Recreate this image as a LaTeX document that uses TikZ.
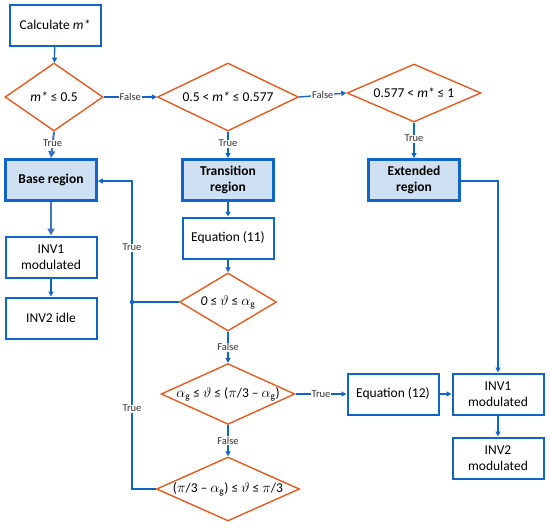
\documentclass[tikz,border=0pt]{standalone}
\usepackage{fontspec}
\setmainfont{Carlito}
\usetikzlibrary{shapes.geometric,arrows.meta}
\definecolor{bl}{RGB}{15,102,200}
\definecolor{bltwo}{RGB}{68,114,196}
\definecolor{orn}{RGB}{228,92,34}
\definecolor{rf}{RGB}{206,224,242}
\newcommand{\ag}{$\alpha_{\mathrm{g}}$}
\tikzset{
  box/.style={draw=bl, line width=2pt, fill=white, minimum width=91pt, minimum height=41pt, align=center, inner sep=1pt, font=\fontsize{13.5}{15.5}\selectfont},
  regbox/.style={box, fill=rf, line width=2.8pt, font=\fontsize{13.5}{15.5}\selectfont\bfseries},
  dec/.style={diamond, draw=orn, line width=1.4pt, aspect=2.2, inner sep=0pt, fill=white, font=\fontsize{13.5}{15.5}\selectfont},
  conn/.style={draw=bl, line width=1.3pt, -{Triangle[length=5pt,width=5pt]}},
  plain/.style={draw=bl, line width=1.3pt},
  thk/.style={draw=bltwo, line width=2pt, -{Triangle[length=7pt,width=7pt]}},
  lab/.style={fill=white, inner sep=0.6pt, font=\fontsize{10.5}{12}\selectfont, text=black!80}
}
\begin{document}
\begin{tikzpicture}[x=1pt,y=-1pt]
\useasboundingbox (0,0) rectangle (550,528);
% boxes
\node[box] (calc) at (55,25) {Calculate \textit{m*}};
\node[dec, minimum width=98pt, minimum height=68pt] (d1) at (54,97) {\textit{m*} ≤ 0.5};
\node[dec, minimum width=141pt, minimum height=68pt] (d2) at (228,97) {0.5 < \textit{m*} ≤ 0.577};
\node[dec, minimum width=134pt, minimum height=58pt] (d3) at (414,93) {0.577 < \textit{m*} ≤ 1};
\node[regbox] (base) at (51,180) {Base region};
\node[regbox] (trans) at (228,180) {Transition\\region};
\node[regbox] (ext) at (414,180) {Extended\\region};
\node[box] (inva) at (51,257) {INV1\\modulated};
\node[box] (idle) at (51,318) {INV2 idle};
\node[box] (eqa) at (228,238) {Equation (11)};
\node[dec, minimum width=97pt, minimum height=58pt] (da) at (228,302) {\textit{0} ≤ $\vartheta$ ≤ \ag};
\node[dec, minimum width=133pt, minimum height=58pt] (db) at (228,394) {\ag{} ≤ $\vartheta$ ≤ ($\pi$/3 – \ag)};
\node[dec, minimum width=143pt, minimum height=64pt] (dc) at (228,489) {($\pi$/3 – \ag) ≤ $\vartheta$ ≤ $\pi$/3};
\node[box] (eqb) at (393,394) {Equation (12)};
\node[box] (invb) at (498,394) {INV1\\modulated};
\node[box] (invc) at (498,458) {INV2\\modulated};
\coordinate (j) at (132,302);
\coordinate (jb) at (132,489);
\coordinate (jt) at (132,181);
\coordinate (ec) at (498,181);
% connectors
\draw[conn] (calc) -- (d1);
\draw[conn] (d1.east) -- node[lab]{False} (d2.west);
\draw[conn] (d2.east) -- node[lab]{False} (d3.west);
\draw[thk] (d1.south) -- node[lab, pos=0.45]{True} (base.north);
\draw[conn] (d2.south) -- node[lab, pos=0.45]{True} (trans.north);
\draw[conn] (d3.south) -- node[lab, pos=0.45]{True} (ext.north);
\draw[thk] (base) -- (inva);
\draw[conn] (inva) -- (idle);
\draw[conn] (trans) -- (eqa);
\draw[conn] (eqa) -- (da);
\draw[plain] (da.west) -- (j);
\fill[bl] (j) circle (2.2pt);
\draw[conn] (da.south) -- node[lab]{False} (db.north);
\draw[conn] (db.south) -- node[lab]{False} (dc.north);
\draw[conn] (db.east) -- node[lab]{True} (eqb.west);
\draw[conn] (dc.west) -- (jb) -- node[lab, pos=0.43]{True} (j) -- node[lab, pos=0.45]{True} (jt) -- (base.east |- jt);
\draw[conn] (eqb) -- (invb);
\draw[conn] (ext.east |- ec) -- (ec) -- (invb.north);
\draw[conn] (invb) -- (invc);
\end{tikzpicture}
\end{document}
